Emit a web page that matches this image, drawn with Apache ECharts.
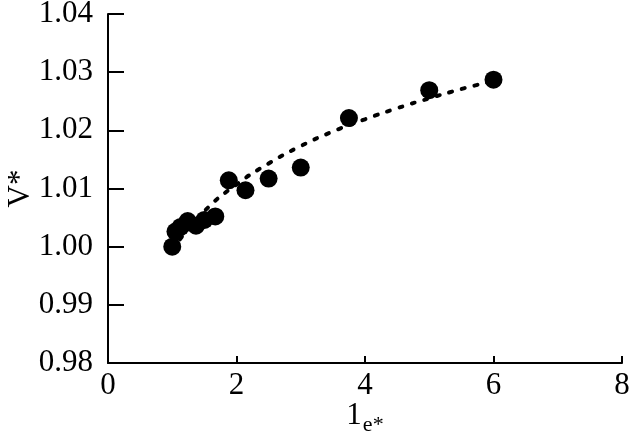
<!DOCTYPE html>
<html>
<head>
<meta charset="utf-8">
<script src="https://cdn.jsdelivr.net/npm/echarts@6/dist/echarts.min.js"></script>
<style>
  html, body { margin: 0; padding: 0; background: #fff; }
  #chart { width: 629px; height: 438px; }
</style>
</head>
<body>
<div id="chart"></div>
<script>
// measured points
const xData = [1.0, 1.05, 1.13, 1.24, 1.37, 1.5, 1.67, 1.88, 2.14, 2.5, 3.0, 3.75, 5.0, 6.0];
const yData = [1.0000, 1.0026, 1.0034, 1.0044, 1.0036, 1.0046, 1.0052, 1.0114, 1.0097, 1.0117, 1.0136, 1.0221, 1.0269, 1.0287];
// dotted trend line
const trendX = [1, 1.5, 2, 2.5, 3, 3.5, 4, 4.5, 5, 5.5, 6];
const trendY = [0.9995, 1.0061, 1.0107, 1.0143, 1.0173, 1.0198, 1.0219, 1.0238, 1.0255, 1.0271, 1.0285];

const font = "'Liberation Serif', 'Times New Roman', serif";
const chart = echarts.init(document.getElementById("chart"));

const points = xData.map((x, i) => [x, yData[i]]);
const trend = trendX.map((x, i) => [x, trendY[i]]);

chart.setOption({
  animation: false,
  backgroundColor: "#fff",
  grid: { left: 108, right: 7, top: 14, bottom: 75, containLabel: false, outerBoundsMode: "none" },
  xAxis: {
    type: "value",
    min: 0,
    max: 8,
    interval: 2,
    name: "{a|1}{b|e*}",
    nameLocation: "middle",
    nameGap: 37,
    nameMoveOverlap: false,
    nameTextStyle: {
      rich: {
        a: { fontFamily: font, fontSize: 31, color: "#000", lineHeight: 34, verticalAlign: "top" },
        b: { fontFamily: font, fontSize: 22, color: "#000", lineHeight: 34, padding: [14, 0, 0, 1], verticalAlign: "top" }
      }
    },
    axisLine: { lineStyle: { color: "#000", width: 2 } },
    axisTick: { inside: true, length: 7, lineStyle: { color: "#000", width: 2 } },
    axisLabel: { fontFamily: font, fontSize: 31, color: "#000", margin: 7 },
    splitLine: { show: false }
  },
  yAxis: {
    type: "value",
    min: 0.98,
    max: 1.04,
    interval: 0.01,
    name: "V*",
    nameLocation: "middle",
    nameGap: 72,
    nameMoveOverlap: false,
    nameRotate: 90,
    nameTextStyle: { fontFamily: font, fontSize: 31, color: "#000" },
    axisLine: { lineStyle: { color: "#000", width: 2 } },
    axisTick: { inside: true, length: 16, lineStyle: { color: "#000", width: 2 } },
    axisLabel: {
      fontFamily: font,
      fontSize: 31,
      color: "#000",
      margin: 15,
      formatter: v => v.toFixed(2)
    },
    splitLine: { show: false }
  },
  series: [
    {
      type: "line",
      data: trend,
      smooth: true,
      symbol: "none",
      lineStyle: { color: "#000", width: 4, type: [3, 10], cap: "round" },
      z: 3
    },
    {
      type: "scatter",
      data: points,
      symbol: "circle",
      symbolSize: 18,
      itemStyle: { color: "#000", opacity: 1 },
      z: 2
    }
  ]
});
</script>
</body>
</html>
